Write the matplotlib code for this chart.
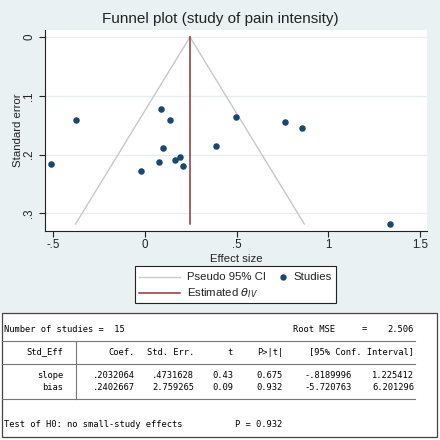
import matplotlib.pyplot as plt
import matplotlib.patches as mpatches
from matplotlib.lines import Line2D
import numpy as np

plt.rcParams['font.family'] = ['Liberation Sans', 'DejaVu Sans']

# Study effect sizes and standard errors
effect = [-0.376, 0.087, 0.136, 0.498, 0.765, 0.857, 0.096, 0.385,
          -0.514, -0.020, 0.078, 0.163, 0.191, 0.205, 1.335]
std_err = [0.141, 0.123, 0.141, 0.136, 0.144, 0.155, 0.189, 0.185,
           0.216, 0.228, 0.213, 0.209, 0.204, 0.219, 0.318]
theta_iv = 0.245

x_ticks = [-0.5, 0, 0.5, 1, 1.5]
x_labels = ['-.5', '0', '.5', '1', '1.5']
y_ticks = [0, 0.1, 0.2, 0.3]
y_labels = ['0', '.1', '.2', '.3']

# Egger test table
header = ['Coef.', 'Std. Err.', 't', 'P>|t|', '[95% Conf. Interval]']
row_names = ['slope', 'bias']
coef = ['.2032064', '.2402667']
se_col = ['.4731628', '2.759265']
t_col = ['0.43', '0.09']
p_col = ['0.675', '0.932']
ci_lo = ['-.8189996', '-5.720763']
ci_hi = ['1.225412', '6.201296']
n_studies = 15
root_mse = '2.506'
p_test = '0.932'

W = H = 440.0
BG = '#eaf1f3'
NAVY = '#1a476f'
MAROON = '#90353b'
GREY = '#c8c8c8'
INK = '#222222'


def fx(px):
    return px / W


def fy(py):
    return 1 - py / H


fig = plt.figure(figsize=(4.4, 4.4), dpi=100)
fig.patch.set_facecolor('white')
fig.add_artist(mpatches.Rectangle((0, fy(313)), 1, 313 / H, transform=fig.transFigure,
                                  facecolor=BG, edgecolor='none', zorder=-10))

ax = fig.add_axes([fx(45), fy(231), fx(427 - 45), (231 - 30) / H])
ax.set_facecolor('white')

se_max = max(std_err)
se_line = np.array([0, se_max])
ax.plot(theta_iv - 1.96 * se_line, se_line, color=GREY, lw=1.0, zorder=2)
ax.plot(theta_iv + 1.96 * se_line, se_line, color=GREY, lw=1.0, zorder=2)
ax.plot([theta_iv, theta_iv], [0, se_max], color=MAROON, lw=1.1, zorder=3)
ax.scatter(effect, std_err, s=22, color=NAVY, zorder=4, linewidths=0)

ax.set_xlim(-0.545, 1.537)
ax.set_ylim(0.330, -0.012)
ax.set_xticks(x_ticks)
ax.set_xticklabels(x_labels)
ax.set_yticks(y_ticks)
ax.set_yticklabels(y_labels, rotation=90, va='center')
ax.tick_params(direction='out', length=4, width=0.8, labelsize=8.3, colors=INK)
ax.tick_params(axis='x', pad=2)
ax.tick_params(axis='y', pad=3)
ax.grid(axis='y', color='#e6eef0', lw=1.0)
ax.set_axisbelow(True)
for side in ['top', 'right']:
    ax.spines[side].set_visible(False)
for side in ['left', 'bottom']:
    ax.spines[side].set_linewidth(0.8)
    ax.spines[side].set_color(INK)

ax.set_xlabel('Effect size', fontsize=8.2, labelpad=2, color=INK)
ax.set_ylabel('Standard error', fontsize=8.2, labelpad=0, color=INK)
fig.text(0.5, fy(19), 'Funnel plot (study of pain intensity)', ha='center', va='center',
         fontsize=11, color=INK)

# Legend (drawn by hand to match the Stata layout)
fig.add_artist(mpatches.Rectangle((fx(135), fy(303)), fx(336 - 135), (303 - 266) / H,
                                  transform=fig.transFigure, facecolor='white',
                                  edgecolor=INK, lw=0.8))
fig.add_artist(Line2D([fx(139), fx(180)], [fy(277), fy(277)], color=GREY, lw=1.0))
fig.add_artist(Line2D([fx(139), fx(180)], [fy(293), fy(293)], color=MAROON, lw=1.1))
fig.add_artist(Line2D([fx(283)], [fy(277)], color=NAVY, marker='o', ls='none',
                      markersize=4.6, markeredgewidth=0))
leg_font = dict(fontsize=8.2, color=INK, va='center', ha='left')
fig.text(fx(187), fy(277), 'Pseudo 95% CI', **leg_font)
fig.text(fx(187), fy(293), r'Estimated $\theta_{IV}$', **leg_font)
fig.text(fx(293), fy(277), 'Studies', **leg_font)

# Table
fig.add_artist(mpatches.Rectangle((fx(2), fy(437)), fx(435), (437 - 313) / H,
                                  transform=fig.transFigure, facecolor='white',
                                  edgecolor='#444444', lw=0.9))
mono = dict(family='DejaVu Sans Mono', fontsize=6.3, color='black', va='center')
fig.text(fx(4), fy(329), 'Number of studies =  %d' % n_studies, ha='left', **mono)
fig.text(fx(293), fy(329), 'Root MSE', ha='left', **mono)
fig.text(fx(362), fy(329), '=', ha='left', **mono)
fig.text(fx(414), fy(329), root_mse, ha='right', **mono)

for yy in [341, 364, 399]:
    fig.add_artist(Line2D([fx(2), fx(415)], [fy(yy), fy(yy)], color='#777777', lw=0.8))
fig.add_artist(Line2D([fx(76), fx(76)], [fy(341), fy(399)], color='#777777', lw=0.8))

fig.text(fx(63), fy(352), 'Std_Eff', ha='right', **mono)
col_right = [135, 194, 233, 283]
for h, xr in zip(header[:4], col_right):
    fig.text(fx(xr), fy(352), h, ha='right', **mono)
fig.text(fx(414), fy(352), header[4], ha='right', **mono)

for i, rn in enumerate(row_names):
    yy = fy(376 + 11 * i)
    fig.text(fx(63), yy, rn, ha='right', **mono)
    vals = [coef[i], se_col[i], t_col[i], p_col[i], ci_lo[i], ci_hi[i]]
    for v, xr in zip(vals, [135, 194, 233, 283, 352, 414]):
        fig.text(fx(xr), yy, v, ha='right', **mono)

fig.text(fx(4), fy(424), 'Test of H0: no small-study effects', ha='left', **mono)
fig.text(fx(235), fy(424), 'P = ' + p_test, ha='left', **mono)

fig.savefig('out.png', dpi=100, facecolor=fig.get_facecolor())
